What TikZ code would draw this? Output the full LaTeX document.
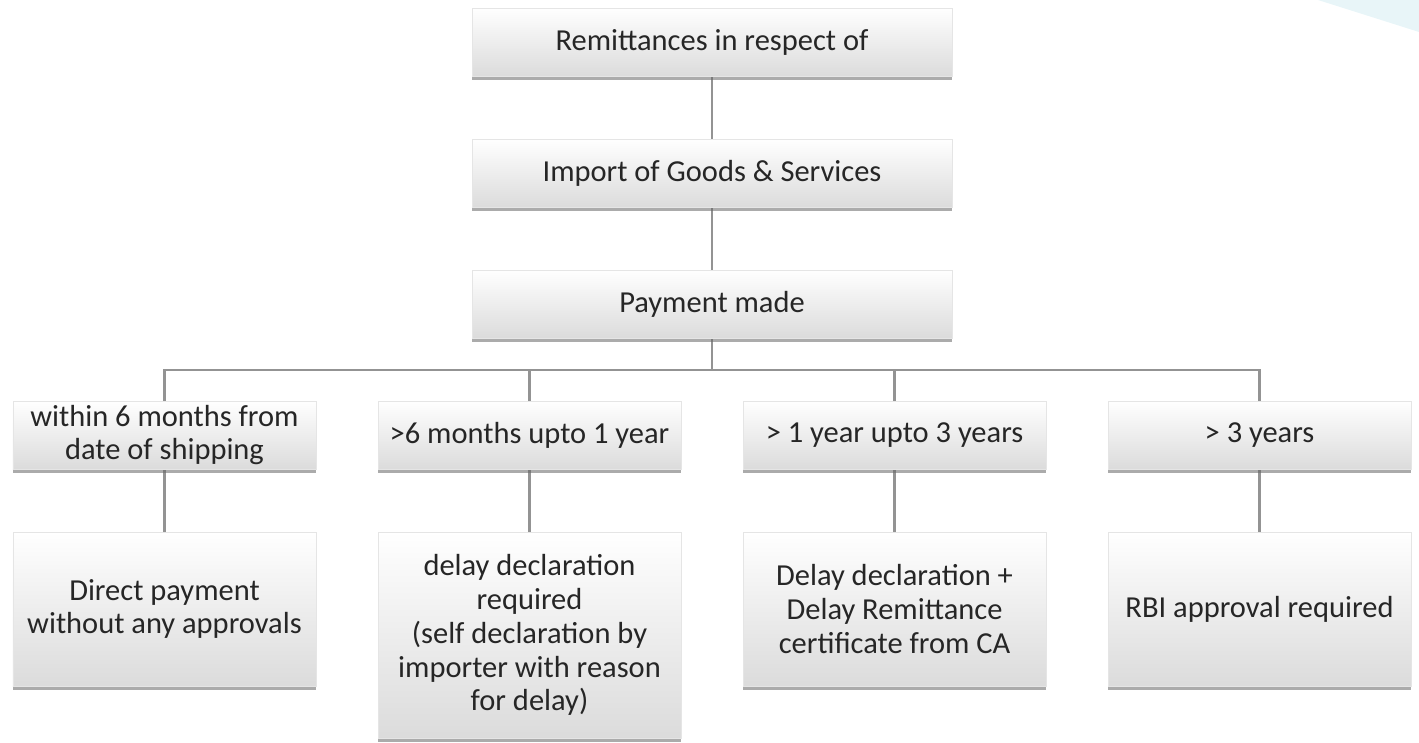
\documentclass[tikz,border=0pt]{standalone}
\usepackage{fontspec}
\setmainfont{Carlito}
\usetikzlibrary{shadows,backgrounds}
\definecolor{txt}{HTML}{262626}
\definecolor{link}{HTML}{939393}
\definecolor{tint}{HTML}{E8F5F8}
\tikzset{
  box/.style={draw=black!10, line width=0.6bp, top color=white, middle color=white!97!black,
    bottom color=black!14,
    text=txt, align=center, inner sep=0pt,
    font=\fontsize{30.6}{34}\selectfont,
    drop shadow={shadow xshift=0bp, shadow yshift=-4bp, opacity=0.55, fill=black!60}},
  widebox/.style={box, minimum width=480bp, minimum height=68bp},
  casebox/.style={box, minimum width=303bp, minimum height=68bp},
  rulebox/.style={box, minimum width=303bp, minimum height=154bp},
  tallbox/.style={box, minimum width=303bp, minimum height=206bp},
  link/.style={draw=link, line width=2.5bp}
}
\begin{document}
\begin{tikzpicture}[x=1bp, y=-1bp]
  \useasboundingbox (0,0) rectangle (1419,742);
  % light corner tint
  \fill[tint] (1318,0) -- (1419,32) -- (1419,0) -- cycle;

  % top chain
  \node[widebox] (rem) at (712,42) {Remittances in respect of};
  \node[widebox] (imp) at (712,173) {Import of Goods \& Services};
  \node[widebox] (pay) at (712,304) {Payment made};

  % time-limit cases
  \node[casebox] (c1) at (164.5,435) {within 6 months from\\date of shipping};
  \node[casebox] (c2) at (529.5,435) {>6 months upto 1 year};
  \node[casebox] (c3) at (894.5,435) {> 1 year upto 3 years};
  \node[casebox] (c4) at (1259.5,435) {> 3 years};

  % requirements
  \node[rulebox] (r1) at (164.5,609) {Direct payment\\without any approvals};
  \node[tallbox] (r2) at (529.5,635) {delay declaration\\required\\(self declaration by\\importer with reason\\for delay)};
  \node[rulebox] (r3) at (894.5,609) {Delay declaration +\\Delay Remittance\\certificate from CA};
  \node[rulebox] (r4) at (1259.5,609) {RBI approval required};

  \coordinate (bar) at (712,370);

  \begin{scope}[on background layer]
    \draw[link] (rem.south) -- (imp.north);
    \draw[link] (imp.south) -- (pay.north);
    \draw[link] (pay.south) -- (bar);
    \draw[link] (c1.north) |- (bar) -| (c4.north);
    \draw[link] (c2.north) -- (c2.north |- bar);
    \draw[link] (c3.north) -- (c3.north |- bar);
    \draw[link] (c1.south) -- (r1.north);
    \draw[link] (c2.south) -- (r2.north);
    \draw[link] (c3.south) -- (r3.north);
    \draw[link] (c4.south) -- (r4.north);
  \end{scope}
\end{tikzpicture}
\end{document}
